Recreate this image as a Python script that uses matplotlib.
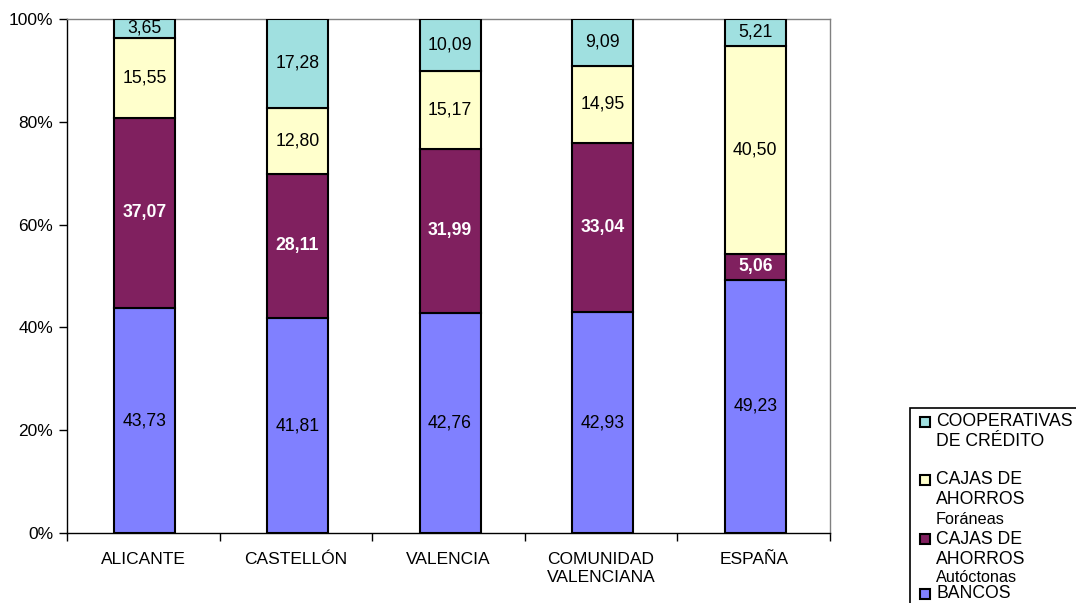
import matplotlib
matplotlib.use("Agg")
import matplotlib.pyplot as plt
from matplotlib.patches import Rectangle
import numpy as np

categories = ["ALICANTE", "CASTELLÓN", "VALENCIA", "COMUNIDAD\nVALENCIANA", "ESPAÑA"]
bancos = [43.73, 41.81, 42.76, 42.93, 49.23]
cajas_autoctonas = [37.07, 28.11, 31.99, 33.04, 5.06]
cajas_foraneas = [15.55, 12.80, 15.17, 14.95, 40.50]
cooperativas = [3.65, 17.28, 10.09, 9.09, 5.21]
yticks = [0, 20, 40, 60, 80, 100]
ytick_labels = ["0%", "20%", "40%", "60%", "80%", "100%"]

series = [
    ("BANCOS", bancos, "#8080FF", "black", "normal"),
    ("CAJAS DE AHORROS Autóctonas", cajas_autoctonas, "#80205F", "white", "bold"),
    ("CAJAS DE AHORROS Foráneas", cajas_foraneas, "#FFFFCC", "black", "normal"),
    ("COOPERATIVAS DE CRÉDITO", cooperativas, "#A0E0E0", "black", "normal"),
]

plt.rcParams["font.family"] = ["Liberation Sans", "DejaVu Sans"]
W, H = 1076, 603
fig = plt.figure(figsize=(W / 100, H / 100), dpi=100)
ax = fig.add_axes([67 / W, (H - 533) / H, (830 - 67) / W, (533 - 19) / H])

x = np.arange(len(categories))
bottom = np.zeros(len(categories))
for name, vals, col, tcol, tw in series:
    vals = np.array(vals)
    ax.bar(x + 0.01, vals, 0.4, bottom=bottom, color=col, edgecolor="black", linewidth=1.5, zorder=3)
    for xi, b, v in zip(x, bottom, vals):
        ax.text(xi + 0.01, b + v / 2, f"{v:.2f}".replace(".", ","), ha="center", va="center",
                color=tcol, fontweight=tw, fontsize=12.7, zorder=4)
    bottom += vals

ax.set_xlim(-0.5, len(categories) - 0.5)
ax.set_ylim(0, 100)
ax.set_yticks(yticks)
ax.set_yticklabels(ytick_labels, fontsize=12.5)
ax.set_xticks(x)
ax.set_xticklabels(categories, fontsize=12.5, linespacing=1.25)
ax.tick_params(axis="x", which="major", length=0, pad=14)
ax.set_xticks(np.arange(-0.5, len(categories), 1.0), minor=True)
ax.tick_params(axis="x", which="minor", length=6, direction="out", width=1)
ax.tick_params(axis="y", length=6, direction="out", width=1, pad=4)
for s in ["top", "right"]:
    ax.spines[s].set_color("#808080")
    ax.spines[s].set_linewidth(1)
for s in ["left", "bottom"]:
    ax.spines[s].set_color("black")
    ax.spines[s].set_linewidth(1)

# Legend drawn manually (box extends past the figure edge as in the reference)
def fx(px):
    return px / W

def fy(py):
    return (H - py) / H

fig.patches.append(Rectangle((fx(910), fy(620)), fx(300), fy(408) - fy(620),
                             transform=fig.transFigure, facecolor="white",
                             edgecolor="black", linewidth=1.2, clip_on=False))
legend_items = [
    (series[3][2], 422, ["COOPERATIVAS", "DE CRÉDITO"], []),
    (series[2][2], 480, ["CAJAS DE", "AHORROS"], ["Foráneas"]),
    (series[1][2], 539, ["CAJAS DE", "AHORROS"], ["Autóctonas"]),
    (series[0][2], 594, ["BANCOS"], []),
]
for col, ytop, lines, small in legend_items:
    fig.patches.append(Rectangle((fx(920), fy(ytop + 5)), fx(10), fy(ytop - 5) - fy(ytop + 5),
                                 transform=fig.transFigure, facecolor=col,
                                 edgecolor="black", linewidth=1.5))
    yy = ytop
    for ln in lines:
        fig.text(fx(936), fy(yy), ln, fontsize=12.7, va="center", ha="left")
        yy += 20
    for ln in small:
        fig.text(fx(936), fy(yy - 1), ln, fontsize=11.7, va="center", ha="left")

fig.savefig("out.png", dpi=100)
